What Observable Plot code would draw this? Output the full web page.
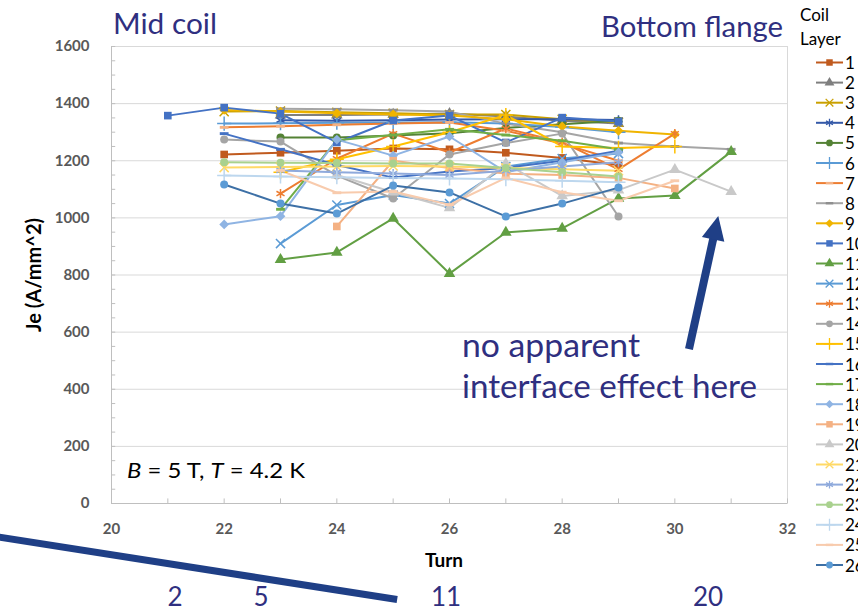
<!DOCTYPE html>
<html>
<head>
<meta charset="utf-8">
<script src="https://cdn.jsdelivr.net/npm/d3@7"></script>
<script src="https://cdn.jsdelivr.net/npm/@observablehq/plot@0.6"></script>
<style>
  html, body { margin: 0; padding: 0; background: #fff; overflow: hidden; }
  #wrap { position: relative; width: 858px; height: 607px; overflow: hidden; font-family: Lato, "Open Sans", sans-serif; }
  #wrap > svg { position: absolute; left: 0; top: 0; }
</style>
</head>
<body>
<div id="wrap"></div>
<script>
// ---------- data ----------
const turns = [21, 22, 23, 24, 25, 26, 27, 28, 29, 30, 31];
const je01 = [null, 1222, 1228, 1235, 1243, 1240, 1228, 1210, 1185, null, null];
const je02 = [null, null, 1360, 1360, 1362, 1365, 1355, 1340, 1330, null, null];
const je03 = [null, 1372, 1374, 1370, 1366, 1362, 1362, 1345, 1335, null, null];
const je04 = [null, null, 1342, 1340, 1342, 1344, 1345, 1345, 1343, null, null];
const je05 = [null, null, 1281, 1281, 1288, 1296, 1315, 1328, 1340, null, null];
const je06 = [null, 1330, 1331, 1333, 1334, 1335, 1330, 1318, 1300, null, null];
const je07 = [null, 1317, 1321, 1326, 1330, 1334, 1305, 1260, 1200, null, null];
const je08 = [null, null, 1382, 1380, 1377, 1372, 1330, 1300, 1262, 1250, 1240];
const je09 = [null, 1378, 1372, 1366, 1362, 1358, 1345, 1320, 1305, 1292, null];
const je10 = [1358, 1386, 1365, 1264, 1341, 1358, 1264, 1351, 1337, null, null];
const je11 = [null, null, 854, 879, 998, 805, 949, 963, 1068, 1078, 1232];
const je12 = [null, null, 910, 1045, 1080, 1050, 1180, 1208, 1225, null, null];
const je13 = [null, null, 1085, 1207, 1295, 1229, 1313, 1265, 1170, 1295, null];
const je14 = [null, 1274, 1267, 1148, 1068, 1222, 1262, 1295, 1005, null, null];
const je15 = [null, null, 1160, 1205, 1250, 1300, 1360, 1250, 1245, 1250, null];
const je16 = [null, 1295, 1240, 1185, 1141, 1162, 1175, 1200, 1235, null, null];
const je17 = [null, null, 1030, 1272, 1290, 1310, 1290, 1270, 1240, null, null];
const je18 = [null, 977, 1006, 1274, 1218, 1285, 1160, 1195, 1229, null, null];
const je19 = [null, null, null, 970, 1200, 1175, 1155, 1150, 1140, 1103, null];
const je20 = [null, null, null, 1150, 1090, 1035, 1190, 1077, 1097, 1169, 1092];
const je21 = [null, 1176, 1178, 1180, 1182, 1180, 1175, 1170, 1165, null, null];
const je22 = [null, null, 1166, 1160, 1155, 1150, 1165, 1180, 1195, null, null];
const je23 = [null, 1195, 1193, 1192, 1190, 1190, 1175, 1160, 1145, null, null];
const je24 = [null, 1148, 1145, 1142, 1140, 1138, 1135, 1130, 1125, null, null];
const je25 = [null, null, 1166, 1088, 1092, 1046, 1140, 1090, 1060, 1130, null];
const je26 = [null, 1117, 1050, 1015, 1113, 1089, 1005, 1050, 1106, null, null];

const layerNames = ["1","2","3","4","5","6","7","8","9","10","11","12","13","14","15","16","17","18","19","20","21","22","23","24","25","26"];
const layerValues = [je01,je02,je03,je04,je05,je06,je07,je08,je09,je10,je11,je12,je13,je14,je15,je16,je17,je18,je19,je20,je21,je22,je23,je24,je25,je26];
const layerColors = ["#C05A1E","#7F7F7F","#C9A000","#3559A8","#548235","#5B9BD5","#ED7D31","#A5A5A5","#F0B400","#4472C4","#629F43","#5B9BD5","#ED7D31","#A5A5A5","#FFC000","#4472C4","#70AD47","#8FB4E3","#F4B183","#C9C9C9","#FFD966","#8FAADC","#A9D18E","#BDD7EE","#F8CBAD","#3D70A6"];
const markerColors = ["#C05A1E","#7F7F7F","#C9A000","#3559A8","#548235","#5B9BD5","#F4B183","#8F8F8F","#F0B400","#4472C4","#629F43","#5B9BD5","#ED7D31","#A5A5A5","#FFC000","#4472C4","#70AD47","#8FB4E3","#F4B183","#C9C9C9","#FFD966","#8FAADC","#A9D18E","#BDD7EE","#F8CBAD","#5B9BD5"];
const layerMarkers = ["square","triangle","times","asterisk","circle","plus","dash","dash","diamond","square","triangle","times","asterisk","circle","plus","dash","dash","diamond","square","triangle","times","asterisk","circle","plus","dash","circle"];

const xTicks = [20, 22, 24, 26, 28, 30, 32];
const yTicks = [0, 200, 400, 600, 800, 1000, 1200, 1400, 1600];

// annotation anchors in data units
const arrowTail = [30.26, 539];
const arrowHead = [30.78, 1005];
const slashStart = [18.0, -119];
const slashEnd = [25.08, -338];

// ---------- symbols ----------
const dashSymbol = { draw(ctx, size) { const w = Math.sqrt(size) * 0.55, h = Math.sqrt(size) * 0.18; ctx.moveTo(-w, -h); ctx.lineTo(w, -h); ctx.lineTo(w, h); ctx.lineTo(-w, h); ctx.closePath(); } };
const symbolMap = {
  square: d3.symbolSquare, triangle: d3.symbolTriangle, times: d3.symbolTimes,
  asterisk: d3.symbolAsterisk, circle: d3.symbolCircle, plus: d3.symbolPlus,
  diamond: d3.symbolDiamond2, dash: dashSymbol
};
const strokeOnly = new Set(["times", "asterisk", "plus"]);
const markerR = { square: 4.3, triangle: 4.3, times: 4.2, asterisk: 4.4, circle: 4, plus: 4.6, diamond: 4.4, dash: 4.5 };

// ---------- marks ----------
const marks = [
  Plot.ruleY(yTicks, { stroke: "#D9D9D9", strokeWidth: 1 }),
  Plot.frame({ stroke: "#D9D9D9" }),
  Plot.ruleX([20], { stroke: "#BFBFBF" }),
  Plot.ruleY([0], { stroke: "#BFBFBF" }),
  Plot.ruleY(d3.range(0, 1601, 50), { x1: 20, x2: 20.075, stroke: "#BFBFBF" }),
  Plot.ruleX(d3.range(20, 33, 1), { y1: 0, y2: 16, stroke: "#BFBFBF" }),
  Plot.axisX({ ticks: xTicks, tickSize: 0, tickPadding: 20, tickFormat: d => String(d), label: null, fontSize: 15, fontWeight: "bold", fill: "#595959" }),
  Plot.axisY({ ticks: yTicks, tickSize: 0, tickPadding: 22, tickFormat: d => String(d), label: null, fontSize: 15, fontWeight: "bold", fill: "#595959" })
];
layerNames.forEach((name, i) => {
  const rows = turns.map((t, j) => ({ turn: t, je: layerValues[i][j] })).filter(d => d.je != null);
  marks.push(Plot.line(rows, { x: "turn", y: "je", stroke: layerColors[i], strokeWidth: 2 }));
});
layerNames.forEach((name, i) => {
  const rows = turns.map((t, j) => ({ turn: t, je: layerValues[i][j] })).filter(d => d.je != null);
  const m = layerMarkers[i];
  const so = strokeOnly.has(m);
  marks.push(Plot.dot(rows, {
    x: "turn", y: "je", symbol: symbolMap[m], r: markerR[m],
    fill: so ? "none" : markerColors[i], stroke: so ? markerColors[i] : "none", strokeWidth: so ? 1.5 : 0
  }));
});

const plot = Plot.plot({
  width: 858, height: 607,
  marginLeft: 111, marginRight: 71, marginTop: 46, marginBottom: 104,
  x: { domain: [20, 32] },
  y: { domain: [0, 1600] },
  style: { fontFamily: "Lato, 'Open Sans', sans-serif", background: "transparent" },
  marks
});
document.getElementById("wrap").appendChild(plot);

// ---------- overlay: titles, annotations, legend ----------
const sx = plot.scale("x"), sy = plot.scale("y");
const svg = d3.select("#wrap").append("svg").attr("width", 858).attr("height", 607)
  .style("font-family", "Lato, 'Open Sans', sans-serif");
const navy = "#2F2F80", arrowBlue = "#1F3F86";

function txt(x, y, s, opts = {}) {
  const t = svg.append("text").attr("x", x).attr("y", y).attr("dominant-baseline", "central")
    .attr("font-size", opts.size || 16).attr("fill", opts.fill || "#000")
    .attr("text-anchor", opts.anchor || "start").attr("font-weight", opts.weight || "normal");
  if (opts.len) t.attr("textLength", opts.len).attr("lengthAdjust", "spacingAndGlyphs");
  if (opts.rotate) t.attr("transform", `rotate(${opts.rotate},${x},${y})`);
  t.text(s);
  return t;
}
txt(113, 22, "Mid coil", { size: 29, fill: navy, len: 104 });
txt(601, 25, "Bottom flange", { size: 29, fill: navy, len: 182 });
txt(462, 344, "no apparent", { size: 32, fill: navy, len: 178 });
txt(462, 385, "interface effect here", { size: 32, fill: navy, len: 295 });
txt(444, 559, "Turn", { size: 19, weight: "bold", anchor: "middle" });
txt(33, 275, "Je (A/mm^2)", { size: 20, weight: "bold", anchor: "middle", rotate: -90 });

const bt = svg.append("text").attr("x", 127).attr("y", 470).attr("dominant-baseline", "central").attr("font-size", 21.5).attr("fill", "#000")
  .attr("textLength", 178).attr("lengthAdjust", "spacingAndGlyphs");
bt.append("tspan").attr("font-style", "italic").text("B");
bt.append("tspan").text(" = 5 T, ");
bt.append("tspan").attr("font-style", "italic").text("T");
bt.append("tspan").text(" = 4.2 K");

[["2", 175], ["5", 261], ["11", 446], ["20", 708]].forEach(([s, x]) => txt(x, 596, s, { size: 26, fill: navy, anchor: "middle" }));

// diagonal slash
svg.append("line").attr("x1", sx.apply(slashStart[0])).attr("y1", sy.apply(slashStart[1]))
  .attr("x2", sx.apply(slashEnd[0])).attr("y2", sy.apply(slashEnd[1]))
  .attr("stroke", arrowBlue).attr("stroke-width", 7);

// arrow
{
  const x0 = sx.apply(arrowTail[0]), y0 = sy.apply(arrowTail[1]);
  const x1 = sx.apply(arrowHead[0]), y1 = sy.apply(arrowHead[1]);
  const dx = x1 - x0, dy = y1 - y0, len = Math.hypot(dx, dy), ux = dx / len, uy = dy / len;
  const hl = 24, hw = 11.5;
  const bx = x1 - ux * hl, by = y1 - uy * hl;
  svg.append("line").attr("x1", x0).attr("y1", y0).attr("x2", bx + ux * 2).attr("y2", by + uy * 2)
    .attr("stroke", arrowBlue).attr("stroke-width", 8);
  svg.append("path").attr("d", `M${x1},${y1}L${bx - uy * hw},${by + ux * hw}L${bx + uy * hw},${by - ux * hw}Z`).attr("fill", arrowBlue);
}

// legend
txt(800, 14, "Coil", { size: 17 });
txt(800, 38, "Layer", { size: 17 });
layerNames.forEach((name, i) => {
  const y = 62.5 + i * 20.1;
  svg.append("line").attr("x1", 816).attr("x2", 843).attr("y1", y).attr("y2", y).attr("stroke", layerColors[i]).attr("stroke-width", 2);
  const m = layerMarkers[i], so = strokeOnly.has(m);
  const r = markerR[m] * 0.85;
  svg.append("path").attr("d", d3.symbol(symbolMap[m], Math.PI * r * r)()).attr("transform", `translate(829.5,${y})`)
    .attr("fill", so ? "none" : markerColors[i]).attr("stroke", so ? markerColors[i] : "none").attr("stroke-width", so ? 1.3 : 0);
  txt(845, y, name, { size: 17 });
});
</script>
</body>
</html>
